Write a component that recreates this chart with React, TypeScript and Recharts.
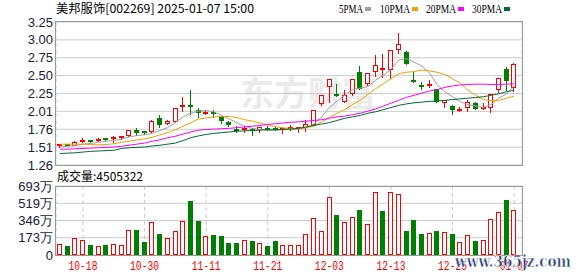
import { Bar, CartesianGrid, ComposedChart, Line, XAxis, YAxis } from "recharts"

const RED = "#ff0000"
const GREEN = "#008000"

const dates = [
  "10-15", "10-16", "10-17", "10-18", "10-21", "10-22", "10-23", "10-24", "10-25", "10-28",
  "10-29", "10-30", "10-31", "11-01", "11-04", "11-05", "11-06", "11-07", "11-08", "11-11",
  "11-12", "11-13", "11-14", "11-15", "11-18", "11-19", "11-20", "11-21", "11-22", "11-25",
  "11-26", "11-27", "11-28", "11-29", "12-02", "12-03", "12-04", "12-05", "12-06", "12-09",
  "12-10", "12-11", "12-12", "12-13", "12-16", "12-17", "12-18", "12-19", "12-20", "12-23",
  "12-24", "12-25", "12-26", "12-27", "12-30", "12-31", "01-02", "01-03", "01-06", "01-07",
]

const opens = [
  1.53, 1.54, 1.53, 1.58, 1.60, 1.59, 1.62, 1.61, 1.63, 1.66,
  1.75, 1.72, 1.72, 1.92, 1.83, 1.86, 2.05, 2.08, 2.02, 1.97,
  1.98, 1.93, 1.86, 1.75, 1.74, 1.75, 1.75, 1.76, 1.76, 1.74,
  1.75, 1.76, 1.77, 1.82, 2.11, 2.35, 2.23, 2.13, 2.25, 2.55,
  2.39, 2.55, 2.58, 2.58, 2.86, 2.83, 2.43, 2.36, 2.35, 2.32,
  2.12, 2.08, 2.02, 2.05, 2.12, 2.04, 2.05, 2.30, 2.60, 2.33,
]
const highs = [
  1.55, 1.55, 1.59, 1.63, 1.61, 1.63, 1.64, 1.66, 1.66, 1.75,
  1.78, 1.73, 1.88, 1.95, 1.89, 2.05, 2.21, 2.30, 2.06, 2.02,
  2.03, 1.94, 1.87, 1.80, 1.80, 1.78, 1.79, 1.80, 1.79, 1.79,
  1.81, 1.79, 1.88, 2.03, 2.23, 2.45, 2.39, 2.31, 2.45, 2.64,
  2.54, 2.79, 2.81, 2.86, 3.10, 2.84, 2.56, 2.42, 2.44, 2.32,
  2.17, 2.10, 2.07, 2.17, 2.14, 2.12, 2.25, 2.47, 2.63, 2.68,
]
const lows = [
  1.50, 1.52, 1.52, 1.56, 1.57, 1.58, 1.58, 1.57, 1.61, 1.65,
  1.67, 1.68, 1.70, 1.78, 1.82, 1.85, 2.00, 1.95, 1.92, 1.96,
  1.92, 1.83, 1.79, 1.71, 1.70, 1.66, 1.70, 1.73, 1.73, 1.69,
  1.73, 1.70, 1.72, 1.80, 2.08, 2.12, 2.20, 2.12, 2.22, 2.30,
  2.36, 2.48, 2.47, 2.45, 2.80, 2.65, 2.40, 2.30, 2.33, 2.12,
  2.05, 1.95, 2.00, 2.00, 2.02, 2.02, 1.98, 2.26, 2.29, 2.28,
]
const closes = [
  1.54, 1.53, 1.58, 1.60, 1.58, 1.61, 1.60, 1.64, 1.65, 1.75,
  1.71, 1.70, 1.87, 1.82, 1.87, 2.05, 2.08, 2.06, 1.98, 1.99,
  1.97, 1.87, 1.81, 1.73, 1.76, 1.73, 1.79, 1.75, 1.74, 1.76,
  1.78, 1.78, 1.83, 2.02, 2.23, 2.45, 2.21, 2.23, 2.45, 2.32,
  2.54, 2.65, 2.60, 2.86, 2.94, 2.66, 2.41, 2.34, 2.37, 2.14,
  2.16, 2.02, 2.03, 2.14, 2.04, 2.05, 2.25, 2.47, 2.43, 2.67,
]
const volumes = [
  1100000, 900000, 1670000, 1500000, 1000000, 870000, 1000000, 1100000, 970000, 2470000,
  2500000, 1330000, 3270000, 2130000, 1670000, 2370000, 3370000, 5400000, 3370000, 1870000,
  2000000, 1900000, 1200000, 1200000, 1470000, 1400000, 1170000, 900000, 1400000, 970000,
  970000, 970000, 2100000, 3670000, 2370000, 5870000, 4000000, 3270000, 3770000, 4500000,
  3070000, 6370000, 4400000, 6370000, 6170000, 2400000, 3500000, 2100000, 2200000, 2400000,
  2300000, 2100000, 1300000, 2000000, 1400000, 1500000, 3600000, 4300000, 5500000, 4505322,
]

const ma5 = [
  1.51, 1.52, 1.53, 1.55, 1.56, 1.575, 1.59, 1.60, 1.62, 1.65,
  1.67, 1.68, 1.70, 1.74, 1.78, 1.85, 1.93, 1.98, 2.01, 2.02,
  2.00, 1.95, 1.90, 1.85, 1.80, 1.77, 1.755, 1.745, 1.745, 1.75,
  1.755, 1.76, 1.78, 1.83, 1.93, 2.06, 2.15, 2.23, 2.31, 2.33,
  2.35, 2.44, 2.51, 2.59, 2.72, 2.74, 2.69, 2.64, 2.54, 2.38,
  2.28, 2.21, 2.14, 2.10, 2.08, 2.06, 2.10, 2.19, 2.25, 2.37,
]
const ma10 = [
  1.55, 1.55, 1.55, 1.55, 1.545, 1.54, 1.545, 1.555, 1.575, 1.59,
  1.61, 1.625, 1.645, 1.68, 1.71, 1.75, 1.80, 1.85, 1.90, 1.915,
  1.93, 1.935, 1.935, 1.92, 1.89, 1.87, 1.845, 1.815, 1.795, 1.775,
  1.77, 1.77, 1.78, 1.80, 1.86, 1.92, 1.98, 2.03, 2.10, 2.16,
  2.24, 2.32, 2.39, 2.46, 2.53, 2.55, 2.56, 2.58, 2.57, 2.55,
  2.52, 2.46, 2.40, 2.30, 2.23, 2.17, 2.155, 2.16, 2.19, 2.22,
]
const ma20 = [
  1.48, 1.48, 1.485, 1.49, 1.495, 1.50, 1.505, 1.51, 1.52, 1.535,
  1.55, 1.565, 1.59, 1.61, 1.64, 1.66, 1.69, 1.72, 1.745, 1.755,
  1.76, 1.765, 1.77, 1.78, 1.79, 1.80, 1.81, 1.825, 1.835, 1.845,
  1.855, 1.86, 1.87, 1.88, 1.89, 1.91, 1.93, 1.94, 1.96, 1.98,
  2.01, 2.04, 2.08, 2.12, 2.16, 2.20, 2.23, 2.26, 2.29, 2.31,
  2.34, 2.36, 2.375, 2.38, 2.385, 2.385, 2.38, 2.38, 2.385, 2.39,
]
const ma30 = [
  1.42, 1.425, 1.43, 1.44, 1.45, 1.455, 1.46, 1.465, 1.49, 1.50,
  1.505, 1.51, 1.525, 1.535, 1.55, 1.565, 1.60, 1.64, 1.665, 1.685,
  1.70, 1.71, 1.72, 1.73, 1.735, 1.74, 1.745, 1.75, 1.75, 1.755,
  1.76, 1.77, 1.79, 1.81, 1.83, 1.85, 1.88, 1.91, 1.93, 1.95,
  1.98, 2.00, 2.03, 2.06, 2.09, 2.11, 2.125, 2.135, 2.145, 2.15,
  2.16, 2.17, 2.18, 2.19, 2.20, 2.21, 2.23, 2.25, 2.28, 2.30,
]

const priceLabels = ["1.26", "1.51", "1.76", "2.01", "2.25", "2.50", "2.75", "3.00", "3.25"]
const volumeLabels = ["0", "173万", "346万", "519万", "693万"]
const dateTicks = ["10-18", "10-30", "11-11", "11-21", "12-03", "12-13", "12-25", "01-07"]

const maSeries = [
  { key: "ma5", label: "5PMA", color: "#a0a0a0" },
  { key: "ma10", label: "10PMA", color: "#f0a000" },
  { key: "ma20", label: "20PMA", color: "#ff00ff" },
  { key: "ma30", label: "30PMA", color: "#006b33" },
]

const priceMin = parseFloat(priceLabels[0])
const priceMax = parseFloat(priceLabels[priceLabels.length - 1])
const priceTicks = priceLabels.map((_, i) => priceMin + (i * (priceMax - priceMin)) / (priceLabels.length - 1))
const volumeMax = 6930000
const volumeTicks = volumeLabels.map((_, i) => (i * volumeMax) / (volumeLabels.length - 1))

const labelFor = (ticks: number[], labels: string[]) => (v: number) => {
  const i = ticks.findIndex((t) => Math.abs(t - v) < 1e-6 * Math.max(1, Math.abs(t)))
  return i >= 0 ? labels[i] : ""
}

const data = dates.map((date, i) => ({
  date,
  open: opens[i],
  high: highs[i],
  low: lows[i],
  close: closes[i],
  volume: volumes[i],
  up: closes[i] >= (i > 0 ? closes[i - 1] : opens[i]),
  ma5: ma5[i],
  ma10: ma10[i],
  ma20: ma20[i],
  ma30: ma30[i],
}))

const axisFont = { fontSize: 13, fill: "#20203c", fontFamily: "'Liberation Sans', Arial, sans-serif" }

function Candle(props: any) {
  const { x, y, width, height, payload } = props
  if (!payload) return null
  const { open, close, high, low } = payload
  const top = Math.min(y, y + height)
  const span = Math.abs(height)
  const py = (v: number) => top + ((high - v) / (high - low)) * span
  const left = Math.round(x)
  const w = Math.round(width)
  const cx = left + Math.floor(w / 2) + 0.5
  const rising = close >= open
  const color = rising ? RED : GREEN
  const hi = Math.round(py(high))
  const lo = Math.round(py(low))
  const bTop = Math.round(py(Math.max(open, close)))
  const bBot = Math.round(py(Math.min(open, close)))

  if (bBot - bTop < 3) {
    return (
      <g>
        <line x1={cx} x2={cx} y1={hi} y2={lo} stroke={color} />
        <rect x={left} y={bTop - 1} width={w} height={Math.max(2, bBot - bTop)} fill={color} />
      </g>
    )
  }
  if (rising) {
    return (
      <g>
        <line x1={cx} x2={cx} y1={hi} y2={bTop} stroke={color} />
        <line x1={cx} x2={cx} y1={bBot} y2={lo} stroke={color} />
        <rect x={left + 0.5} y={bTop + 0.5} width={w - 1} height={bBot - bTop - 1} fill="#fff" stroke={color} />
      </g>
    )
  }
  return (
    <g>
      <line x1={cx} x2={cx} y1={hi} y2={lo} stroke={color} />
      <rect x={left} y={bTop} width={w} height={bBot - bTop} fill={color} />
    </g>
  )
}

function VolumeBar(props: any) {
  const { x, y, width, height, payload } = props
  if (!payload || !height) return null
  const left = Math.round(x)
  const w = Math.round(width)
  const top = Math.round(Math.min(y, y + height))
  const bottom = Math.round(Math.max(y, y + height))
  if (payload.up) {
    return <rect x={left + 0.5} y={top + 0.5} width={w - 1} height={bottom - top - 1} fill="#fff" stroke={RED} />
  }
  return <rect x={left} y={top} width={w} height={bottom - top} fill={GREEN} />
}

function DateTick(props: any) {
  const { x, y, payload } = props
  return (
    <text
      x={x}
      y={y + 7}
      textAnchor="middle"
      fill={RED}
      fontSize={12}
      fontFamily="'Liberation Mono', monospace"
      textLength={29}
      lengthAdjust="spacingAndGlyphs"
    >
      {payload.value}
    </text>
  )
}

export default function App() {
  return (
    <div style={{ position: "absolute", left: 0, top: 0, width: 578, height: 276, background: "#fff", overflow: "hidden" }}>
      <svg width={578} height={276} style={{ position: "absolute", left: 0, top: 0 }}>
        <text x={240} y={106} fontSize={34} fontWeight="bold" fill="#ebebeb" fontFamily="'Noto Sans CJK SC', sans-serif">
          东方财富
        </text>
      </svg>

      <div style={{ position: "absolute", left: 0, top: 0 }}>
        <ComposedChart width={578} height={176} data={data} margin={{ top: 22, right: 56, bottom: 11, left: 0 }}>
          <CartesianGrid horizontal vertical={false} stroke="#cccccc" />
          <CartesianGrid horizontal={false} vertical stroke="#cccccc" strokeDasharray="4 3" />
          <XAxis dataKey="date" ticks={dateTicks} interval={0} height={0} tick={false} axisLine={false} tickLine={false} padding={{ left: 0, right: 4 }} />
          <YAxis
            domain={[priceMin, priceMax]}
            ticks={priceTicks}
            interval={0}
            allowDataOverflow
            width={56}
            axisLine={false}
            tickLine={false}
            tickSize={0}
            tickMargin={3}
            tick={axisFont}
            tickFormatter={labelFor(priceTicks, priceLabels)}
          />
          <Bar dataKey={(d: any) => [d.low, d.high]} barSize={5} shape={(p: any) => <Candle {...p} />} isAnimationActive={false} />
          {maSeries.map((s) => (
            <Line key={s.key} dataKey={s.key} type="linear" stroke={s.color} strokeWidth={1} dot={false} activeDot={false} isAnimationActive={false} />
          ))}
        </ComposedChart>
      </div>

      <div style={{ position: "absolute", left: 0, top: 170 }}>
        <ComposedChart width={578} height={106} data={data} margin={{ top: 16, right: 56, bottom: 0, left: 0 }}>
          <CartesianGrid horizontal vertical={false} stroke="#cccccc" />
          <CartesianGrid horizontal={false} vertical stroke="#cccccc" strokeDasharray="4 3" />
          <XAxis
            dataKey="date"
            ticks={dateTicks}
            height={21}
            axisLine={false}
            tickLine={false}
            interval={0}
            padding={{ left: 0, right: 4 }}
            tick={(p: any) => <DateTick {...p} />}
          />
          <YAxis
            domain={[0, volumeMax]}
            ticks={volumeTicks}
            interval={0}
            allowDataOverflow
            width={56}
            axisLine={false}
            tickLine={false}
            tickSize={0}
            tickMargin={3}
            tick={axisFont}
            tickFormatter={labelFor(volumeTicks, volumeLabels)}
          />
          <Bar dataKey="volume" barSize={5} shape={(p: any) => <VolumeBar {...p} />} isAnimationActive={false} />
        </ComposedChart>
      </div>

      <svg width={578} height={276} style={{ position: "absolute", left: 0, top: 0, pointerEvents: "none" }}>
        <rect x={55.5} y={21.5} width={467} height={144} fill="none" stroke="#999999" />
        <rect x={55.5} y={186.5} width={467} height={69} fill="none" stroke="#999999" />
        <text
          x={56}
          y={13}
          fontSize={12}
          fill="#000"
          fontFamily="'Noto Sans CJK SC', sans-serif"
          textLength={198}
          lengthAdjust="spacingAndGlyphs"
        >
          美邦服饰[002269] 2025-01-07 15:00
        </text>
        {maSeries.map((s, i) => {
          const x = [339, 380, 426, 472][i]
          const w = s.label.length * 6
          return (
            <g key={s.key}>
              <text x={x} y={13} fontSize={12} fill="#000" fontFamily="'Liberation Serif', serif" textLength={w} lengthAdjust="spacingAndGlyphs">
                {s.label}
              </text>
              <rect x={x + w + 2} y={7} width={6} height={4} fill={s.color} />
            </g>
          )
        })}
        <text x={57} y={181} fontSize={12} fill="#000" fontFamily="'Noto Sans CJK SC', sans-serif">
          成交量:{volumes[volumes.length - 1]}
        </text>
        <text
          x={455}
          y={267}
          fontSize={17}
          fontWeight="bold"
          fill="#1f3c78"
          stroke="#ffffff"
          strokeWidth={0.6}
          fontFamily="'DejaVu Serif', serif"
          textLength={116}
          lengthAdjust="spacingAndGlyphs"
        >
          www.365jz.com
        </text>
      </svg>
    </div>
  )
}
